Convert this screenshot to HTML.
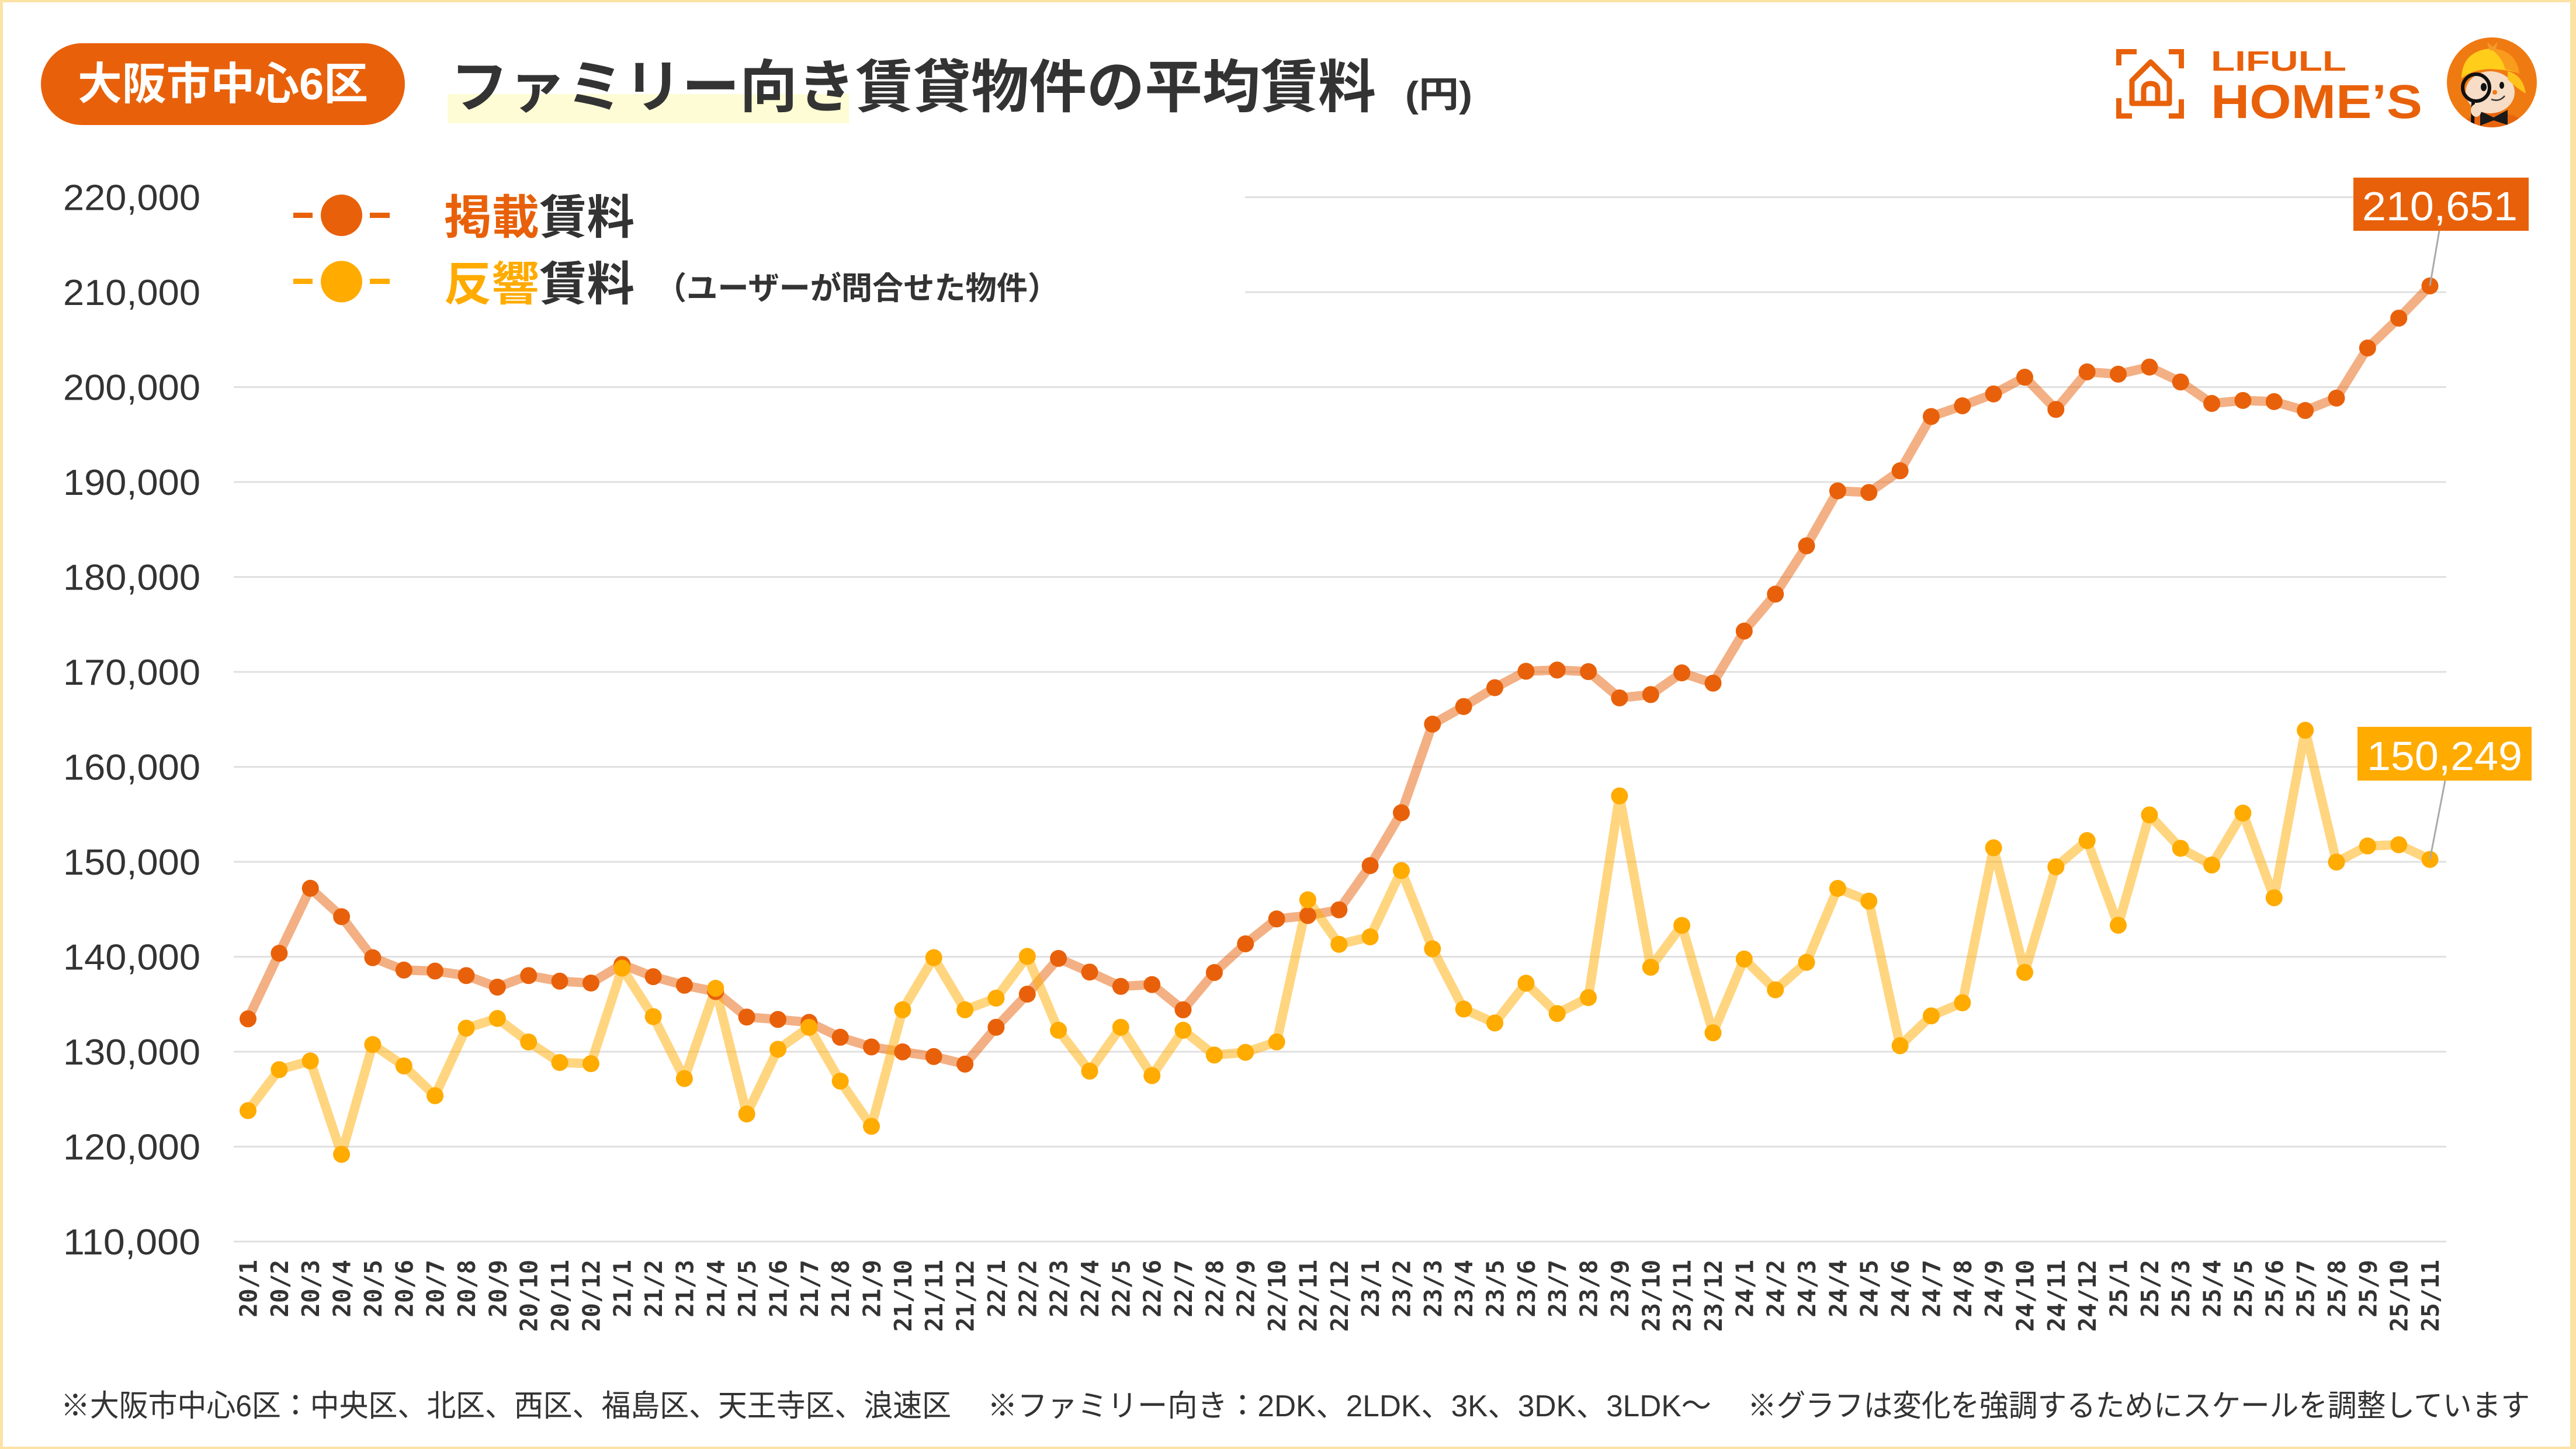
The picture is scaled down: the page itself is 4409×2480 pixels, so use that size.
<!DOCTYPE html>
<html>
<head>
<meta charset="utf-8">
<style>
html,body{margin:0;padding:0;background:#fff;}
svg{display:block;}
</style>
</head>
<body>
<svg width="4409" height="2480" viewBox="0 0 4409 2480" xmlns="http://www.w3.org/2000/svg">
  <defs>
    <clipPath id="mc"><circle cx="4265" cy="141" r="77"/></clipPath>
  </defs>
  <!-- frame -->
  <rect x="0" y="0" width="4409" height="2480" fill="#FCE2A4"/>
  <rect x="5" y="4" width="4394" height="2472" fill="#FFFFFF"/>

  <!-- badge -->
  <rect x="70" y="74" width="623" height="140" rx="70" ry="70" fill="#E8610A"/>
  <text x="133" y="170" font-family="'Liberation Sans','Noto Sans CJK JP',sans-serif" font-weight="bold" font-size="76" fill="#FFFFFF" textLength="497" lengthAdjust="spacingAndGlyphs">大阪市中心6区</text>

  <!-- title -->
  <rect x="766" y="161" width="687" height="50" fill="#FEFCD4"/>
  <text x="771" y="183" font-family="'Noto Sans CJK JP',sans-serif" font-weight="bold" font-size="98" fill="#333333" textLength="1584" lengthAdjust="spacingAndGlyphs">ファミリー向き賃貸物件の平均賃料</text>
  <text x="2405" y="183" font-family="'Liberation Sans','Noto Sans CJK JP',sans-serif" font-weight="bold" font-size="62" fill="#333333" textLength="115" lengthAdjust="spacingAndGlyphs">(円)</text>

  <!-- logo -->
  <g stroke="#E8610A" stroke-width="9" fill="none" stroke-linecap="butt">
    <path d="M3626.5,112 V88.5 H3657"/>
    <path d="M3712,88.5 H3733.5 V117"/>
    <path d="M3626.5,168 V198.5 H3649"/>
    <path d="M3712,198.5 H3733.5 V170"/>
    <path d="M3649,177 V138 L3681,106 L3713,138 V177 Z" stroke-linejoin="round"/>
    <path d="M3669,174 V154 Q3669,143 3681,143 Q3693,143 3693,154 V174"/>
  </g>
  <text x="3784" y="121" font-family="'Liberation Sans',sans-serif" font-weight="bold" font-size="48" fill="#E8610A" textLength="232" lengthAdjust="spacingAndGlyphs">LIFULL</text>
  <text x="3784" y="202" font-family="'Liberation Sans',sans-serif" font-weight="bold" font-size="82" fill="#E8610A" textLength="362" lengthAdjust="spacingAndGlyphs">HOME’S</text>

  <!-- mascot -->
  <circle cx="4265" cy="141" r="77" fill="#F07A12"/>
  <g clip-path="url(#mc)">
    <ellipse cx="4268" cy="228" rx="62" ry="36" fill="#E8650E"/>
    <path d="M4245,190 L4268,201 L4292,188 L4292,214 L4268,206 L4245,215 Z" fill="#1A1A1A"/>
    <ellipse cx="4262" cy="158" rx="42" ry="36" fill="#F7DCC6"/>
    <path d="M4213,134 Q4214,88 4262,83 Q4306,84 4312,126 Q4300,120 4262,118 Q4232,119 4213,134 Z" fill="#FFCD1A"/>
    <path d="M4262,83 Q4306,84 4312,126 Q4300,120 4288,119 Q4282,96 4262,83 Z" fill="#F99B1C"/>
    <path d="M4292,122 Q4318,128 4323,160 Q4306,150 4292,136 Z" fill="#FFC21A"/>
    <path d="M4257,72 L4266,80 L4275,72 L4271,86 L4261,86 Z" fill="#F39A2C"/>
    <ellipse cx="4251" cy="149" rx="5" ry="7" fill="#111111"/>
    <ellipse cx="4282" cy="146" rx="4" ry="6" fill="#111111"/>
    <circle cx="4270" cy="158" r="4" fill="#F07A12"/>
    <path d="M4264,170 Q4278,175 4287,164" stroke="#333333" stroke-width="2.5" fill="none"/>
    <circle cx="4238" cy="150" r="23" fill="none" stroke="#111111" stroke-width="6"/>
    <line x1="4233" y1="173" x2="4232" y2="212" stroke="#111111" stroke-width="6"/>
    <ellipse cx="4238" cy="189" rx="9" ry="11" fill="#F7DCC6"/>
  </g>

  <!-- gridlines -->
  <g stroke="#E0E0E0" stroke-width="3">
    <line x1="2131" y1="337.5" x2="4187" y2="337.5"/>
    <line x1="2131" y1="500" x2="4187" y2="500"/>
    <line x1="400" y1="662.5" x2="4187" y2="662.5"/>
    <line x1="400" y1="825" x2="4187" y2="825"/>
    <line x1="400" y1="987.5" x2="4187" y2="987.5"/>
    <line x1="400" y1="1150" x2="4187" y2="1150"/>
    <line x1="400" y1="1312.5" x2="4187" y2="1312.5"/>
    <line x1="400" y1="1475" x2="4187" y2="1475"/>
    <line x1="400" y1="1637.5" x2="4187" y2="1637.5"/>
    <line x1="400" y1="1800" x2="4187" y2="1800"/>
    <line x1="400" y1="1962.5" x2="4187" y2="1962.5"/>
    <line x1="400" y1="2125" x2="4187" y2="2125"/>
  </g>

  <!-- y labels -->
  <g font-family="'Liberation Sans',sans-serif" font-size="62" fill="#333333">
    <text x="108" y="359.5" textLength="235" lengthAdjust="spacingAndGlyphs">220,000</text>
    <text x="108" y="522" textLength="235" lengthAdjust="spacingAndGlyphs">210,000</text>
    <text x="108" y="684.5" textLength="235" lengthAdjust="spacingAndGlyphs">200,000</text>
    <text x="108" y="847" textLength="235" lengthAdjust="spacingAndGlyphs">190,000</text>
    <text x="108" y="1009.5" textLength="235" lengthAdjust="spacingAndGlyphs">180,000</text>
    <text x="108" y="1172" textLength="235" lengthAdjust="spacingAndGlyphs">170,000</text>
    <text x="108" y="1334.5" textLength="235" lengthAdjust="spacingAndGlyphs">160,000</text>
    <text x="108" y="1497" textLength="235" lengthAdjust="spacingAndGlyphs">150,000</text>
    <text x="108" y="1659.5" textLength="235" lengthAdjust="spacingAndGlyphs">140,000</text>
    <text x="108" y="1822" textLength="235" lengthAdjust="spacingAndGlyphs">130,000</text>
    <text x="108" y="1984.5" textLength="235" lengthAdjust="spacingAndGlyphs">120,000</text>
    <text x="108" y="2147" textLength="235" lengthAdjust="spacingAndGlyphs">110,000</text>
  </g>

  <!-- legend -->
  <g>
    <rect x="502" y="364" width="33" height="9" fill="#E8610A"/>
    <rect x="633" y="364" width="34" height="9" fill="#E8610A"/>
    <circle cx="584.5" cy="368.5" r="35.5" fill="#E8610A"/>
    <rect x="502" y="477" width="33" height="9" fill="#FFAB00"/>
    <rect x="633" y="477" width="34" height="9" fill="#FFAB00"/>
    <circle cx="584.5" cy="482" r="35.5" fill="#FFAB00"/>
    <text x="760" y="400" font-family="'Noto Sans CJK JP',sans-serif" font-weight="bold" font-size="80" fill="#333333" textLength="326" lengthAdjust="spacingAndGlyphs"><tspan fill="#E8610A">掲載</tspan>賃料</text>
    <text x="760" y="514" font-family="'Noto Sans CJK JP',sans-serif" font-weight="bold" font-size="80" fill="#333333" textLength="326" lengthAdjust="spacingAndGlyphs"><tspan fill="#FFAB00">反響</tspan>賃料</text>
    <text x="1122" y="512" font-family="'Noto Sans CJK JP',sans-serif" font-weight="bold" font-size="54" fill="#333333" textLength="690" lengthAdjust="spacingAndGlyphs">（ユーザーが問合せた物件）</text>
  </g>

  <!-- series lines -->
  <polyline fill="none" stroke="#E8610A" stroke-opacity="0.5" stroke-width="16" stroke-linejoin="round" stroke-linecap="round" points="424.5,1743.8 477.9,1631.5 531.2,1520.3 584.6,1568.9 637.9,1639.1 691.3,1660.3 744.6,1662.0 798.0,1669.7 851.3,1689.5 904.7,1669.7 958.0,1679.3 1011.4,1682.5 1064.7,1650.7 1118.1,1671.6 1171.4,1686.3 1224.8,1697.1 1278.1,1740.7 1331.5,1744.8 1384.8,1749.8 1438.2,1775.3 1491.5,1791.9 1544.9,1800.3 1598.2,1808.3 1651.6,1821.3 1704.9,1758.2 1758.3,1701.5 1811.6,1640.4 1865.0,1663.7 1918.3,1688.2 1971.7,1685.1 2025.0,1728.3 2078.4,1664.5 2131.7,1615.4 2185.1,1572.8 2238.4,1567.0 2291.8,1557.2 2345.1,1481.5 2398.5,1391.0 2451.8,1239.4 2505.2,1209.2 2558.5,1177.0 2611.9,1148.9 2665.2,1146.8 2718.6,1149.5 2771.9,1194.5 2825.3,1188.8 2878.6,1151.6 2932.0,1169.2 2985.3,1080.1 3038.7,1016.9 3092.0,934.2 3145.4,840.1 3198.7,842.9 3252.1,805.8 3305.4,712.9 3358.8,694.5 3412.1,674.2 3465.5,645.6 3518.8,700.7 3572.2,636.5 3625.5,640.4 3678.9,628.2 3732.2,653.7 3785.6,690.5 3838.9,685.4 3892.3,687.4 3945.6,702.6 3999.0,681.4 4052.3,595.6 4105.7,544.5 4159.0,489.4"/>
  <polyline fill="none" stroke="#FFAB00" stroke-opacity="0.5" stroke-width="16" stroke-linejoin="round" stroke-linecap="round" points="424.5,1900.9 477.9,1830.7 531.2,1815.9 584.6,1975.7 637.9,1787.8 691.3,1824.4 744.6,1875.4 798.0,1759.7 851.3,1743.1 904.7,1783.4 958.0,1818.5 1011.4,1820.5 1064.7,1657.0 1118.1,1740.0 1171.4,1846.0 1224.8,1691.5 1278.1,1906.6 1331.5,1795.9 1384.8,1758.2 1438.2,1850.4 1491.5,1927.7 1544.9,1728.3 1598.2,1639.0 1651.6,1728.3 1704.9,1708.4 1758.3,1636.9 1811.6,1763.3 1865.0,1833.3 1918.3,1758.2 1971.7,1841.0 2025.0,1763.3 2078.4,1805.7 2131.7,1801.1 2185.1,1783.3 2238.4,1540.0 2291.8,1616.2 2345.1,1603.5 2398.5,1490.0 2451.8,1623.9 2505.2,1727.0 2558.5,1750.9 2611.9,1682.8 2665.2,1734.7 2718.6,1707.4 2771.9,1362.2 2825.3,1655.5 2878.6,1583.9 2932.0,1767.7 2985.3,1641.4 3038.7,1694.1 3092.0,1647.1 3145.4,1520.5 3198.7,1542.3 3252.1,1789.8 3305.4,1738.7 3358.8,1716.3 3412.1,1451.0 3465.5,1664.3 3518.8,1483.6 3572.2,1438.6 3625.5,1583.6 3678.9,1394.7 3732.2,1451.9 3785.6,1480.5 3838.9,1391.6 3892.3,1536.6 3945.6,1249.8 3999.0,1475.5 4052.3,1447.9 4105.7,1445.8 4159.0,1471.0"/>

  <!-- orange dots -->
  <g fill="#E8610A">
    <circle cx="424.5" cy="1743.8" r="14.5"/><circle cx="477.9" cy="1631.5" r="14.5"/><circle cx="531.2" cy="1520.3" r="14.5"/><circle cx="584.6" cy="1568.9" r="14.5"/><circle cx="637.9" cy="1639.1" r="14.5"/><circle cx="691.3" cy="1660.3" r="14.5"/><circle cx="744.6" cy="1662.0" r="14.5"/><circle cx="798.0" cy="1669.7" r="14.5"/><circle cx="851.3" cy="1689.5" r="14.5"/><circle cx="904.7" cy="1669.7" r="14.5"/><circle cx="958.0" cy="1679.3" r="14.5"/><circle cx="1011.4" cy="1682.5" r="14.5"/><circle cx="1064.7" cy="1650.7" r="14.5"/><circle cx="1118.1" cy="1671.6" r="14.5"/><circle cx="1171.4" cy="1686.3" r="14.5"/><circle cx="1224.8" cy="1697.1" r="14.5"/><circle cx="1278.1" cy="1740.7" r="14.5"/><circle cx="1331.5" cy="1744.8" r="14.5"/><circle cx="1384.8" cy="1749.8" r="14.5"/><circle cx="1438.2" cy="1775.3" r="14.5"/><circle cx="1491.5" cy="1791.9" r="14.5"/><circle cx="1544.9" cy="1800.3" r="14.5"/><circle cx="1598.2" cy="1808.3" r="14.5"/><circle cx="1651.6" cy="1821.3" r="14.5"/><circle cx="1704.9" cy="1758.2" r="14.5"/><circle cx="1758.3" cy="1701.5" r="14.5"/><circle cx="1811.6" cy="1640.4" r="14.5"/><circle cx="1865.0" cy="1663.7" r="14.5"/><circle cx="1918.3" cy="1688.2" r="14.5"/><circle cx="1971.7" cy="1685.1" r="14.5"/><circle cx="2025.0" cy="1728.3" r="14.5"/><circle cx="2078.4" cy="1664.5" r="14.5"/><circle cx="2131.7" cy="1615.4" r="14.5"/><circle cx="2185.1" cy="1572.8" r="14.5"/><circle cx="2238.4" cy="1567.0" r="14.5"/><circle cx="2291.8" cy="1557.2" r="14.5"/><circle cx="2345.1" cy="1481.5" r="14.5"/><circle cx="2398.5" cy="1391.0" r="14.5"/><circle cx="2451.8" cy="1239.4" r="14.5"/><circle cx="2505.2" cy="1209.2" r="14.5"/><circle cx="2558.5" cy="1177.0" r="14.5"/><circle cx="2611.9" cy="1148.9" r="14.5"/><circle cx="2665.2" cy="1146.8" r="14.5"/><circle cx="2718.6" cy="1149.5" r="14.5"/><circle cx="2771.9" cy="1194.5" r="14.5"/><circle cx="2825.3" cy="1188.8" r="14.5"/><circle cx="2878.6" cy="1151.6" r="14.5"/><circle cx="2932.0" cy="1169.2" r="14.5"/><circle cx="2985.3" cy="1080.1" r="14.5"/><circle cx="3038.7" cy="1016.9" r="14.5"/><circle cx="3092.0" cy="934.2" r="14.5"/><circle cx="3145.4" cy="840.1" r="14.5"/><circle cx="3198.7" cy="842.9" r="14.5"/><circle cx="3252.1" cy="805.8" r="14.5"/><circle cx="3305.4" cy="712.9" r="14.5"/><circle cx="3358.8" cy="694.5" r="14.5"/><circle cx="3412.1" cy="674.2" r="14.5"/><circle cx="3465.5" cy="645.6" r="14.5"/><circle cx="3518.8" cy="700.7" r="14.5"/><circle cx="3572.2" cy="636.5" r="14.5"/><circle cx="3625.5" cy="640.4" r="14.5"/><circle cx="3678.9" cy="628.2" r="14.5"/><circle cx="3732.2" cy="653.7" r="14.5"/><circle cx="3785.6" cy="690.5" r="14.5"/><circle cx="3838.9" cy="685.4" r="14.5"/><circle cx="3892.3" cy="687.4" r="14.5"/><circle cx="3945.6" cy="702.6" r="14.5"/><circle cx="3999.0" cy="681.4" r="14.5"/><circle cx="4052.3" cy="595.6" r="14.5"/><circle cx="4105.7" cy="544.5" r="14.5"/><circle cx="4159.0" cy="489.4" r="14.5"/>
  </g>
  <!-- yellow dots -->
  <g fill="#FFAB00">
    <circle cx="424.5" cy="1900.9" r="14.5"/><circle cx="477.9" cy="1830.7" r="14.5"/><circle cx="531.2" cy="1815.9" r="14.5"/><circle cx="584.6" cy="1975.7" r="14.5"/><circle cx="637.9" cy="1787.8" r="14.5"/><circle cx="691.3" cy="1824.4" r="14.5"/><circle cx="744.6" cy="1875.4" r="14.5"/><circle cx="798.0" cy="1759.7" r="14.5"/><circle cx="851.3" cy="1743.1" r="14.5"/><circle cx="904.7" cy="1783.4" r="14.5"/><circle cx="958.0" cy="1818.5" r="14.5"/><circle cx="1011.4" cy="1820.5" r="14.5"/><circle cx="1064.7" cy="1657.0" r="14.5"/><circle cx="1118.1" cy="1740.0" r="14.5"/><circle cx="1171.4" cy="1846.0" r="14.5"/><circle cx="1224.8" cy="1691.5" r="14.5"/><circle cx="1278.1" cy="1906.6" r="14.5"/><circle cx="1331.5" cy="1795.9" r="14.5"/><circle cx="1384.8" cy="1758.2" r="14.5"/><circle cx="1438.2" cy="1850.4" r="14.5"/><circle cx="1491.5" cy="1927.7" r="14.5"/><circle cx="1544.9" cy="1728.3" r="14.5"/><circle cx="1598.2" cy="1639.0" r="14.5"/><circle cx="1651.6" cy="1728.3" r="14.5"/><circle cx="1704.9" cy="1708.4" r="14.5"/><circle cx="1758.3" cy="1636.9" r="14.5"/><circle cx="1811.6" cy="1763.3" r="14.5"/><circle cx="1865.0" cy="1833.3" r="14.5"/><circle cx="1918.3" cy="1758.2" r="14.5"/><circle cx="1971.7" cy="1841.0" r="14.5"/><circle cx="2025.0" cy="1763.3" r="14.5"/><circle cx="2078.4" cy="1805.7" r="14.5"/><circle cx="2131.7" cy="1801.1" r="14.5"/><circle cx="2185.1" cy="1783.3" r="14.5"/><circle cx="2238.4" cy="1540.0" r="14.5"/><circle cx="2291.8" cy="1616.2" r="14.5"/><circle cx="2345.1" cy="1603.5" r="14.5"/><circle cx="2398.5" cy="1490.0" r="14.5"/><circle cx="2451.8" cy="1623.9" r="14.5"/><circle cx="2505.2" cy="1727.0" r="14.5"/><circle cx="2558.5" cy="1750.9" r="14.5"/><circle cx="2611.9" cy="1682.8" r="14.5"/><circle cx="2665.2" cy="1734.7" r="14.5"/><circle cx="2718.6" cy="1707.4" r="14.5"/><circle cx="2771.9" cy="1362.2" r="14.5"/><circle cx="2825.3" cy="1655.5" r="14.5"/><circle cx="2878.6" cy="1583.9" r="14.5"/><circle cx="2932.0" cy="1767.7" r="14.5"/><circle cx="2985.3" cy="1641.4" r="14.5"/><circle cx="3038.7" cy="1694.1" r="14.5"/><circle cx="3092.0" cy="1647.1" r="14.5"/><circle cx="3145.4" cy="1520.5" r="14.5"/><circle cx="3198.7" cy="1542.3" r="14.5"/><circle cx="3252.1" cy="1789.8" r="14.5"/><circle cx="3305.4" cy="1738.7" r="14.5"/><circle cx="3358.8" cy="1716.3" r="14.5"/><circle cx="3412.1" cy="1451.0" r="14.5"/><circle cx="3465.5" cy="1664.3" r="14.5"/><circle cx="3518.8" cy="1483.6" r="14.5"/><circle cx="3572.2" cy="1438.6" r="14.5"/><circle cx="3625.5" cy="1583.6" r="14.5"/><circle cx="3678.9" cy="1394.7" r="14.5"/><circle cx="3732.2" cy="1451.9" r="14.5"/><circle cx="3785.6" cy="1480.5" r="14.5"/><circle cx="3838.9" cy="1391.6" r="14.5"/><circle cx="3892.3" cy="1536.6" r="14.5"/><circle cx="3945.6" cy="1249.8" r="14.5"/><circle cx="3999.0" cy="1475.5" r="14.5"/><circle cx="4052.3" cy="1447.9" r="14.5"/><circle cx="4105.7" cy="1445.8" r="14.5"/><circle cx="4159.0" cy="1471.0" r="14.5"/>
  </g>

  <!-- value callouts -->
  <line x1="4175" y1="395" x2="4159" y2="489" stroke="#AAAAAA" stroke-width="3"/>
  <rect x="4028" y="304" width="300" height="91" fill="#E8610A"/>
  <text x="4176" y="377" font-family="'Liberation Sans',sans-serif" font-size="70" fill="#FFFFFF" text-anchor="middle" textLength="266" lengthAdjust="spacingAndGlyphs">210,651</text>
  <line x1="4185" y1="1336" x2="4159" y2="1471" stroke="#AAAAAA" stroke-width="3"/>
  <rect x="4035" y="1244" width="298" height="92" fill="#FFAB00"/>
  <text x="4184" y="1318" font-family="'Liberation Sans',sans-serif" font-size="70" fill="#FFFFFF" text-anchor="middle" textLength="266" lengthAdjust="spacingAndGlyphs">150,249</text>

  <!-- x labels -->
  <g transform="translate(439.5,2156) rotate(-90)" text-anchor="end" font-family="'DejaVu Sans Mono','Liberation Mono',monospace" font-weight="bold" font-size="41" fill="#333333">
    <text x="0" y="0">20/1</text><text x="0" y="53.35">20/2</text><text x="0" y="106.7">20/3</text><text x="0" y="160.05">20/4</text><text x="0" y="213.4">20/5</text><text x="0" y="266.75">20/6</text><text x="0" y="320.1">20/7</text><text x="0" y="373.45">20/8</text><text x="0" y="426.8">20/9</text><text x="0" y="480.15">20/10</text><text x="0" y="533.5">20/11</text><text x="0" y="586.85">20/12</text>
    <text x="0" y="640.2">21/1</text><text x="0" y="693.55">21/2</text><text x="0" y="746.9">21/3</text><text x="0" y="800.25">21/4</text><text x="0" y="853.6">21/5</text><text x="0" y="906.95">21/6</text><text x="0" y="960.3">21/7</text><text x="0" y="1013.65">21/8</text><text x="0" y="1067">21/9</text><text x="0" y="1120.35">21/10</text><text x="0" y="1173.7">21/11</text><text x="0" y="1227.05">21/12</text>
    <text x="0" y="1280.4">22/1</text><text x="0" y="1333.75">22/2</text><text x="0" y="1387.1">22/3</text><text x="0" y="1440.45">22/4</text><text x="0" y="1493.8">22/5</text><text x="0" y="1547.15">22/6</text><text x="0" y="1600.5">22/7</text><text x="0" y="1653.85">22/8</text><text x="0" y="1707.2">22/9</text><text x="0" y="1760.55">22/10</text><text x="0" y="1813.9">22/11</text><text x="0" y="1867.25">22/12</text>
    <text x="0" y="1920.6">23/1</text><text x="0" y="1973.95">23/2</text><text x="0" y="2027.3">23/3</text><text x="0" y="2080.65">23/4</text><text x="0" y="2134">23/5</text><text x="0" y="2187.35">23/6</text><text x="0" y="2240.7">23/7</text><text x="0" y="2294.05">23/8</text><text x="0" y="2347.4">23/9</text><text x="0" y="2400.75">23/10</text><text x="0" y="2454.1">23/11</text><text x="0" y="2507.45">23/12</text>
    <text x="0" y="2560.8">24/1</text><text x="0" y="2614.15">24/2</text><text x="0" y="2667.5">24/3</text><text x="0" y="2720.85">24/4</text><text x="0" y="2774.2">24/5</text><text x="0" y="2827.55">24/6</text><text x="0" y="2880.9">24/7</text><text x="0" y="2934.25">24/8</text><text x="0" y="2987.6">24/9</text><text x="0" y="3040.95">24/10</text><text x="0" y="3094.3">24/11</text><text x="0" y="3147.65">24/12</text>
    <text x="0" y="3201">25/1</text><text x="0" y="3254.35">25/2</text><text x="0" y="3307.7">25/3</text><text x="0" y="3361.05">25/4</text><text x="0" y="3414.4">25/5</text><text x="0" y="3467.75">25/6</text><text x="0" y="3521.1">25/7</text><text x="0" y="3574.45">25/8</text><text x="0" y="3627.8">25/9</text><text x="0" y="3681.15">25/10</text><text x="0" y="3734.5">25/11</text>
  </g>

  <!-- footer -->
  <g font-family="'Liberation Sans','Noto Sans CJK JP',sans-serif" font-size="52" fill="#333333">
    <text x="104" y="2424" textLength="1524" lengthAdjust="spacingAndGlyphs">※大阪市中心6区：中央区、北区、西区、福島区、天王寺区、浪速区</text>
    <text x="1690" y="2424" textLength="1239" lengthAdjust="spacingAndGlyphs">※ファミリー向き：2DK、2LDK、3K、3DK、3LDK〜</text>
    <text x="2991" y="2424" textLength="1339" lengthAdjust="spacingAndGlyphs">※グラフは変化を強調するためにスケールを調整しています</text>
  </g>
</svg>
</body>
</html>
